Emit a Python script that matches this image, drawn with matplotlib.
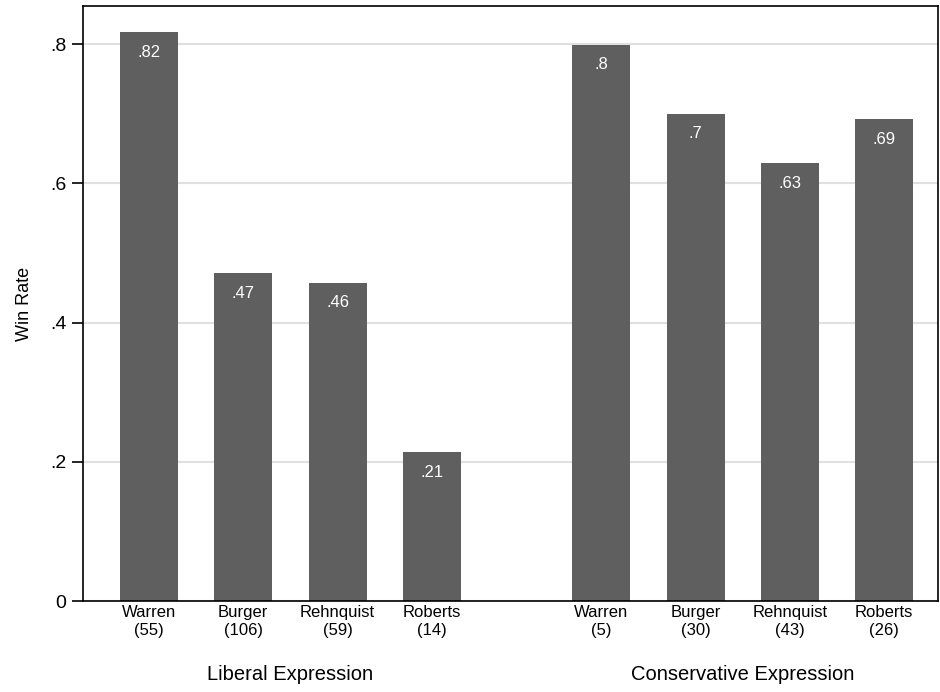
import numpy as np
import matplotlib.pyplot as plt

plt.rcParams['font.family'] = ['Liberation Sans', 'DejaVu Sans']

# liberal / conservative expression, win rate by court era
courts = ["Warren", "Burger", "Rehnquist", "Roberts"]
lib_n = [55, 106, 59, 14]
con_n = [5, 30, 43, 26]
lib_rate = [0.817, 0.471, 0.457, 0.214]
con_rate = [0.799, 0.700, 0.629, 0.692]
groups = ["Liberal Expression", "Conservative Expression"]

lib_x = np.arange(4)
con_x = np.arange(4) + 4.8
bar_col = "#5f5f5f"


def fmt(v):
    s = "%.2f" % v
    s = s.rstrip("0").rstrip(".")
    return s[1:] if s.startswith("0") else s


fig = plt.figure(figsize=(9.4, 6.92), dpi=100)
ax = fig.add_axes([83 / 940, 91 / 692, 855 / 940, 595 / 692])

for xs, vals in [(lib_x, lib_rate), (con_x, con_rate)]:
    ax.bar(xs, vals, width=0.615, color=bar_col, zorder=2)
    for x, v in zip(xs, vals):
        ax.annotate(fmt(round(v, 2)), (x, v), xytext=(0, -14.5), textcoords="offset points",
                    ha="center", va="center", color="white", fontsize=12, zorder=3)

ax.set_xlim(-0.70, 8.37)
ax.set_ylim(0, 0.8546)
ax.set_yticks([0, 0.2, 0.4, 0.6, 0.8])
ax.set_yticklabels(["0", ".2", ".4", ".6", ".8"], fontsize=14)
ax.yaxis.grid(True, color="#e0e0e0", linewidth=1.5, zorder=0)
ax.set_axisbelow(True)
ax.tick_params(axis="y", length=8, width=1.2, pad=4)
ax.set_ylabel("Win Rate", fontsize=13, labelpad=12)

ticks = list(lib_x) + list(con_x)
labels = ["%s\n(%d)" % (c, n) for c, n in zip(courts, lib_n)] + \
         ["%s\n(%d)" % (c, n) for c, n in zip(courts, con_n)]
ax.set_xticks(ticks)
ax.set_xticklabels(labels, fontsize=12, linespacing=1.2)
ax.tick_params(axis="x", length=0, pad=3)

for sp in ax.spines.values():
    sp.set_linewidth(1.2)

ax.text(lib_x.mean(), -0.106, groups[0], ha="center", va="center", fontsize=14.5,
        transform=ax.transData)
ax.text(con_x.mean(), -0.106, groups[1], ha="center", va="center", fontsize=14.5,
        transform=ax.transData)

fig.savefig("out.png", dpi=100)
